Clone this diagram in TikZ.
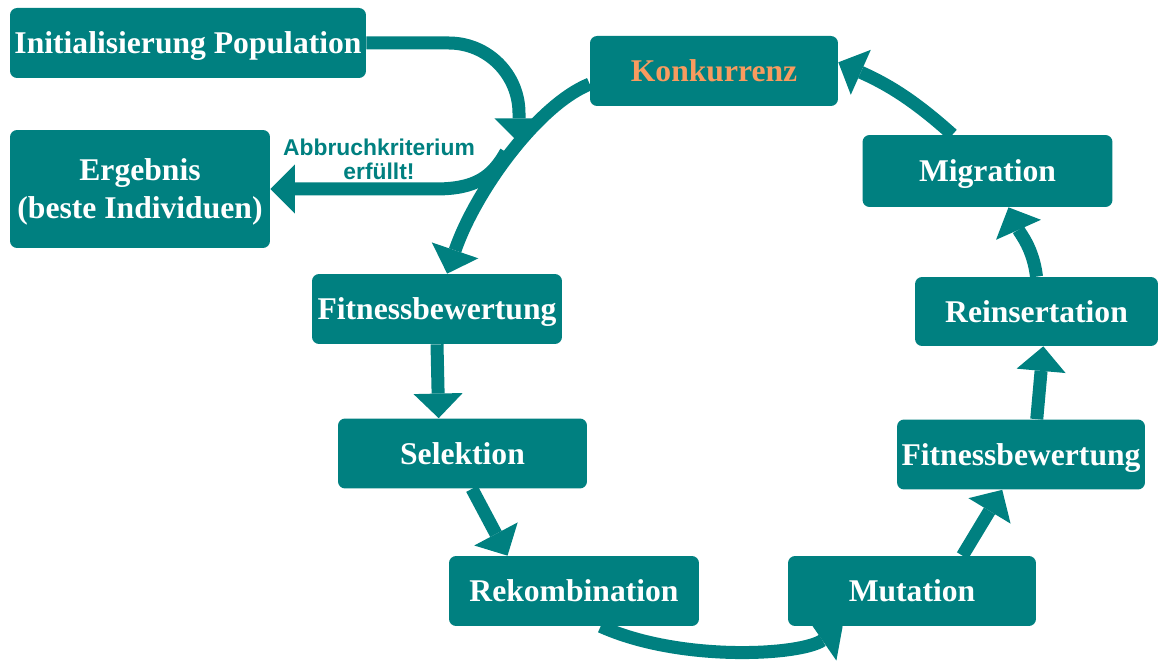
\documentclass[tikz,border=0pt]{standalone}
\usepackage{fontspec}
\setmainfont{Liberation Serif}
\newfontfamily\abbrfont{Liberation Sans}
\usetikzlibrary{arrows.meta, calc}

\definecolor{evoteal}{RGB}{0,128,128}
\definecolor{konkorange}{RGB}{248,155,95}

\tikzset{
  stage/.style={fill=evoteal, rounded corners=4pt, minimum width=5cm, minimum height=1.4cm,
    inner sep=0pt, text=white, align=center, text height=12pt, text depth=0pt,
    font=\fontsize{18}{21.5}\selectfont\bfseries},
  flow/.style={color=evoteal, line width=7.4pt,
    -{Triangle[width=28pt, length=14pt, line width=0pt]}}
}

\begin{document}
\begin{tikzpicture}[x=0.02cm, y=-0.02cm]
\useasboundingbox (0,0) rectangle (1158,661);

% boxes
\node[stage, minimum width=7.12cm] (init) at (188,43) {Initialisierung Population};
\node[stage, minimum width=5.2cm, minimum height=2.36cm, text height={}, text depth={}] (erg) at (140,189)
  {\rule{0pt}{16pt}Ergebnis\\(beste Individuen)};
\node[stage, minimum width=4.96cm, text=konkorange] (konk) at (714,71) {Konkurrenz};
\node[stage, minimum height=1.44cm] (migr) at (987.5,171) {Migration};
\node[stage, minimum width=4.86cm, minimum height=1.38cm] (reins) at (1036.5,311.5) {Reinsertation};
\node[stage, minimum width=4.96cm] (fitr) at (1021,454.5) {Fitnessbewertung};
\node[stage, minimum width=4.96cm] (mut) at (912,591) {Mutation};
\node[stage] (rek) at (574,591) {Rekombination};
\node[stage, minimum width=4.98cm] (sel) at (462.5,453.5) {Selektion};
\node[stage] (fitl) at (437,309) {Fitnessbewertung};

\coordinate (merge) at (519,143);
\coordinate (split) at (506,152);

% arrows
\draw[flow, rounded corners=40pt] (init.east) -| (merge);
\draw[flow] (konk.186) .. controls +(-52,21) and +(28,-82) .. (fitl.74);
\draw[flow] (split) .. controls +(-14,25) and +(40,0) .. ($(erg.east)+(165,0)$) -- (erg.east);
\draw[flow] (fitl.south) -- (sel.124);
\draw[flow] (sel.-75) -- (rek.152);
\draw[flow] (rek.-53) .. controls +(80,36) and +(-42,29) .. (mut.207);
\draw[flow] (mut.35) -- (fitr.242);
\draw[flow] (fitr.66) -- (reins.-79);
\draw[flow] (reins.north) to[out=97, in=-66] (migr.-60);
\draw[flow] (migr.134) to[out=138, in=-24] (konk.4);

\node[text=evoteal, align=center, font=\fontsize{13}{13.6}\selectfont\abbrfont\bfseries] (abbr) at (379,159) {Abbruchkriterium\\erfüllt!};
\end{tikzpicture}
\end{document}
